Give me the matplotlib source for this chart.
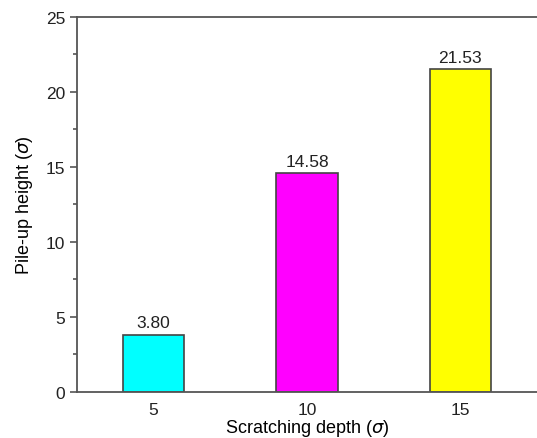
import matplotlib.pyplot as plt
from matplotlib.ticker import MultipleLocator

# data
depths = [5, 10, 15]
heights = [3.80, 14.58, 21.53]
bar_colors = ["#00FFFF", "#FF00FF", "#FFFF00"]

plt.rcParams["font.family"] = ["Liberation Sans", "DejaVu Sans"]
plt.rcParams["font.size"] = 12.5
plt.rcParams["text.color"] = "#222222"

fig = plt.figure(figsize=(5.37, 4.39), dpi=100)
ax = fig.add_axes([0.1434, 0.1048, 0.8566, 0.8542])

bars = ax.bar(depths, heights, width=2, color=bar_colors,
              edgecolor="#444444", linewidth=1.2)

# value labels above bars
for d, h in zip(depths, heights):
    ax.text(d, h + 0.3, "%.2f" % h, ha="center", va="bottom", fontsize=12.5)

ax.set_xlim(2.5, 17.5)
ax.set_ylim(0, 25)
ax.set_xticks(depths)
ax.yaxis.set_major_locator(MultipleLocator(5))
ax.yaxis.set_minor_locator(MultipleLocator(2.5))

for side in ["top", "bottom", "left"]:
    ax.spines[side].set_color("#555555")
    ax.spines[side].set_linewidth(1.3)
ax.spines["right"].set_visible(False)

ax.tick_params(axis="y", which="major", direction="out", length=5, width=1.2,
               colors="#555555", labelcolor="#222222", labelsize=12.5)
ax.tick_params(axis="y", which="minor", direction="out", length=3, width=1.2,
               colors="#555555")
ax.tick_params(axis="x", length=0, pad=7, labelcolor="#222222", labelsize=12.5)

ax.set_xlabel(r"Scratching depth ($\sigma$)", labelpad=0, fontsize=13)
ax.set_ylabel(r"Pile-up height ($\sigma$)", labelpad=8, fontsize=13)

fig.savefig("out.png", dpi=100)
